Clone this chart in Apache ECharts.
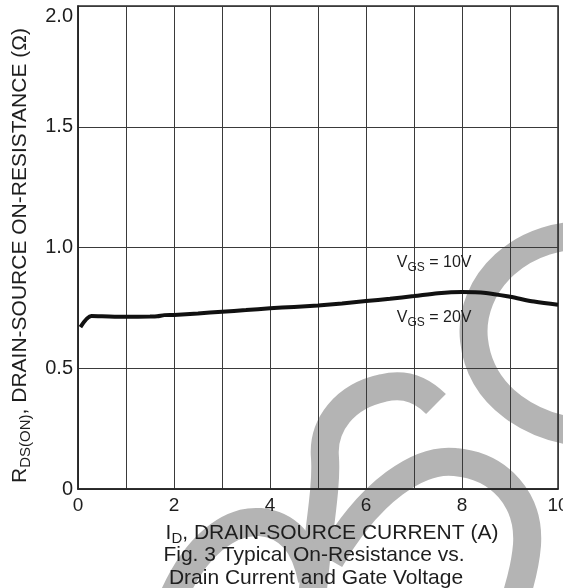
<!DOCTYPE html>
<html>
<head>
<meta charset="utf-8">
<script src="https://cdn.jsdelivr.net/npm/echarts@6/dist/echarts.min.js"></script>
<style>
  html, body { margin: 0; padding: 0; background: #fff; }
  #wrap { position: relative; width: 563px; height: 588px; overflow: hidden; }
  #wm { position: absolute; left: 0; top: 0; z-index: 0; }
  #chart { position: absolute; left: 0; top: 0; width: 563px; height: 588px; z-index: 1; }
</style>
</head>
<body>
<div id="wrap">
  <!-- background watermark (decoration only, not data) -->
  <svg id="wm" width="563" height="588" viewBox="0 0 563 588">
    <g fill="none" stroke="#b4b4b4" stroke-width="28">
      <path d="M 600 236 C 520 228 468 285 474 340 C 480 395 530 432 600 434"/>
      <path d="M 436 404 C 415 383 395 385 383 388 C 345 396 322 425 325 458 C 327 490 318 530 312 600"/>
      <path d="M 330 560 C 370 490 420 458 455 462 C 500 466 530 500 527 545 C 525 570 518 590 515 600"/>
      <path d="M 172 600 C 195 545 230 520 260 522 C 290 525 305 545 312 580"/>
    </g>
  </svg>
  <div id="chart"></div>
</div>
<script>
// ---- data ----
const currentA = [0.05, 0.28, 0.5, 1.0, 1.5, 1.65, 1.8, 2.0, 2.5, 3.0, 3.5, 4.0, 4.5, 5.0, 5.5, 6.0, 6.5, 7.0, 7.5, 8.0, 8.5, 9.0, 9.5, 10.0];
const rdsOn    = [0.67, 0.716, 0.715, 0.713, 0.714, 0.715, 0.72, 0.721, 0.727, 0.734, 0.741, 0.748, 0.754, 0.76, 0.768, 0.778, 0.788, 0.799, 0.811, 0.816, 0.812, 0.796, 0.776, 0.763];
const xTicks = [0, 2, 4, 6, 8, 10];
const yTicks = ['0', '0.5', '1.0', '1.5', '2.0'];
const annot10 = { x: 7.42, y: 0.936, v: '10V' };
const annot20 = { x: 7.42, y: 0.708, v: '20V' };
const captionLines = ['Fig. 3 Typical On-Resistance vs.', 'Drain Current and Gate Voltage'];

const FONT = '"Liberation Sans", Arial, sans-serif';
const TXT = '#1e1e1e';

const chart = echarts.init(document.getElementById('chart'));

const seriesData = currentA.map((x, i) => [x, rdsOn[i]]);

const vgsLabel = v => '{v|V}{s|GS}{v| = ' + v + '}';
const vgsRich = {
  v: { fontFamily: FONT, fontSize: 16, color: TXT, lineHeight: 20 },
  s: { fontFamily: FONT, fontSize: 12, color: TXT, lineHeight: 20, padding: [9, 0, 0, 0] }
};

const nameRich = {
  r: { fontFamily: FONT, fontSize: 21, color: TXT, lineHeight: 24 },
  s: { fontFamily: FONT, fontSize: 15, color: TXT, lineHeight: 24, padding: [11, 0, 0, 0] }
};

const option = {
  animation: false,
  backgroundColor: 'transparent',
  grid: {
    left: 78, top: 6, width: 480, height: 483,
    outerBoundsMode: 'none', containLabel: false,
    show: true, borderColor: '#2a2a2a', borderWidth: 1.5, backgroundColor: 'transparent'
  },
  xAxis: {
    type: 'value', min: 0, max: 10, interval: 1,
    axisLine: { show: true, lineStyle: { color: '#222', width: 1.5 } },
    axisTick: { show: false },
    splitLine: { show: true, lineStyle: { color: '#3a3a3a', width: 1 } },
    axisLabel: {
      fontFamily: FONT, fontSize: 19, color: TXT, margin: 7,
      formatter: v => (xTicks.indexOf(v) >= 0 ? String(v) : '')
    },
    name: '{r|I}{s|D}{r|, DRAIN-SOURCE CURRENT (A)}',
    nameLocation: 'middle', nameGap: 30,
    nameTextStyle: { padding: [0, 0, 0, 28], rich: nameRich }
  },
  yAxis: {
    type: 'value', min: 0, max: 2, interval: 0.5,
    axisLine: { show: true, lineStyle: { color: '#222', width: 1.5 } },
    axisTick: { show: false },
    splitLine: { show: true, lineStyle: { color: '#3a3a3a', width: 1 } },
    axisLabel: {
      fontFamily: FONT, fontSize: 20, color: TXT, margin: 5,
      verticalAlignMaxLabel: 'top',
      formatter: v => yTicks[Math.round(v / 0.5)]
    },
    name: '{r|R}{s|DS(ON)}{r|, DRAIN-SOURCE ON-RESISTANCE (Ω)}',
    nameLocation: 'middle', nameGap: 46, nameRotate: 90,
    nameTextStyle: { padding: [0, 16, 0, 0], rich: nameRich }
  },
  series: [{
    type: 'line',
    data: seriesData,
    smooth: 0.3,
    showSymbol: false,
    lineStyle: { color: '#111', width: 4 },
    z: 5,
    markPoint: {
      symbol: 'circle', symbolSize: 0,
      label: { show: true, position: 'inside', formatter: p => vgsLabel(p.data.v), rich: vgsRich },
      data: [
        { coord: [annot10.x, annot10.y], v: annot10.v },
        { coord: [annot20.x, annot20.y], v: annot20.v }
      ]
    }
  }],
  graphic: [
    { type: 'text', silent: true, x: 314, y: 555,
      style: { text: captionLines[0], font: '21px ' + FONT, fill: TXT, textAlign: 'center', textVerticalAlign: 'middle' } },
    { type: 'text', silent: true, x: 316, y: 578,
      style: { text: captionLines[1], font: '21px ' + FONT, fill: TXT, textAlign: 'center', textVerticalAlign: 'middle' } }
  ]
};

chart.setOption(option);
</script>
</body>
</html>
